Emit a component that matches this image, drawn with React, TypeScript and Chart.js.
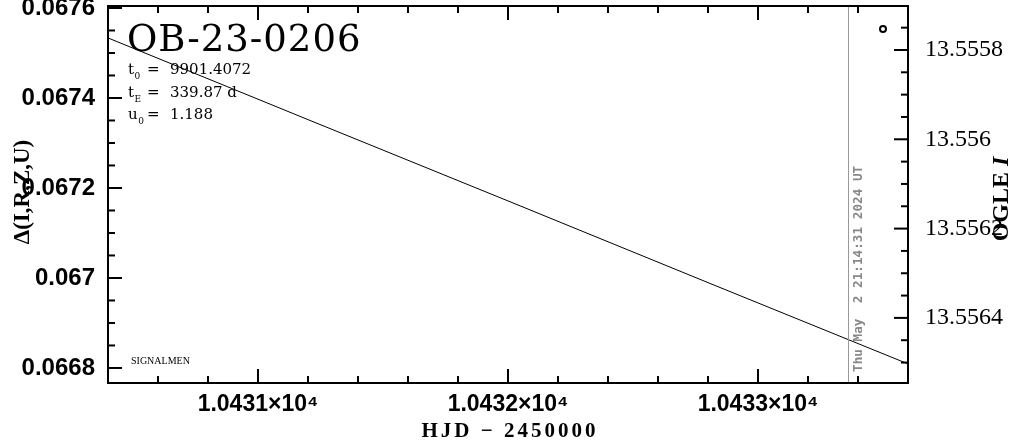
import { useEffect, useRef } from "react";
import { Chart, registerables } from "chart.js";

Chart.register(...registerables);

// ---- data ----
const eventName = "OB-23-0206";
const paramSymbols = ["t", "t", "u"];
const paramSubscripts = ["0", "E", "0"];
const paramValues = ["9901.4072", "339.87 d", "1.188"];
const footerNote = "SIGNALMEN";

const modelHjd = [10430.4, 10431.2, 10432.0, 10432.8, 10433.6];
const modelMag = [13.555773, 13.555956, 13.556138, 13.556321, 13.556503];

const obsHjd = [10433.5];
const obsMag = [13.555753];

const nowHjd = 10433.361;
const nowLabel = "Thu May  2 21:14:31 2024 UT";

const xTicks = [10431, 10432, 10433];
const xTickLabels = ["1.0431×10⁴", "1.0432×10⁴", "1.0433×10⁴"];
const deltaTicks = [0.0668, 0.067, 0.0672, 0.0674, 0.0676];
const deltaTickLabels = ["0.0668", "0.067", "0.0672", "0.0674", "0.0676"];
const magTicks = [13.5558, 13.556, 13.5562, 13.5564];
const magTickLabels = ["13.5558", "13.556", "13.5562", "13.5564"];

const xRange = [10430.4, 10433.6];
const deltaRange = [0.0667666, 0.0676044];
const magRange = [13.5557015, 13.5565458];
const xMinorStep = 0.2;
const yMinorStep = 0.00005;

const xTitle = "HJD \u2212 2450000";
const leftTitle = "\u0394(I,R,Z,U)";
const rightTitleMain = "OGLE ";
const rightTitleItalic = "I";

function drawSideTicks(
  ctx: CanvasRenderingContext2D,
  scale: any,
  side: string,
  area: any,
  majors: number[],
  step: number
) {
  const lo = Math.min(scale.min, scale.max);
  const hi = Math.max(scale.min, scale.max);
  const start = Math.ceil(lo / step - 1e-6);
  for (let k = start; k * step <= hi + step * 1e-6; k++) {
    const v = k * step;
    const isMajor = majors.some((m) => Math.abs(m - v) < step * 0.01);
    const len = isMajor ? 14 : 7;
    const p = scale.getPixelForValue(v);
    ctx.beginPath();
    if (side === "left") {
      ctx.moveTo(area.left, p);
      ctx.lineTo(area.left + len, p);
    } else if (side === "right") {
      ctx.moveTo(area.right, p);
      ctx.lineTo(area.right - len, p);
    } else if (side === "bottom") {
      ctx.moveTo(p, area.bottom);
      ctx.lineTo(p, area.bottom - len);
    } else {
      ctx.moveTo(p, area.top);
      ctx.lineTo(p, area.top + len);
    }
    ctx.stroke();
  }
}

const decorPlugin = {
  id: "decor",
  afterDraw(chart: any) {
    const ctx: CanvasRenderingContext2D = chart.ctx;
    const area = chart.chartArea;
    const xs = chart.scales.x;
    const yl = chart.scales.y;
    const yr = chart.scales.y1;
    ctx.save();

    // time marker
    const nx = Math.round(xs.getPixelForValue(nowHjd)) + 0.5;
    ctx.strokeStyle = "#999999";
    ctx.lineWidth = 1;
    ctx.beginPath();
    ctx.moveTo(nx, area.top);
    ctx.lineTo(nx, area.bottom);
    ctx.stroke();
    ctx.save();
    ctx.translate(nx + 13.5, area.bottom - 11);
    ctx.rotate(-Math.PI / 2);
    ctx.fillStyle = "#888888";
    ctx.font = 'bold 12.7px "DejaVu Sans Mono"';
    ctx.textAlign = "left";
    ctx.textBaseline = "alphabetic";
    ctx.fillText(nowLabel, 0, 0);
    ctx.restore();

    // frame
    ctx.strokeStyle = "#000";
    ctx.lineWidth = 2;
    ctx.strokeRect(area.left, area.top, area.right - area.left, area.bottom - area.top);

    // inner ticks
    drawSideTicks(ctx, xs, "bottom", area, xTicks, xMinorStep);
    drawSideTicks(ctx, xs, "top", area, xTicks, xMinorStep);
    drawSideTicks(ctx, yl, "left", area, deltaTicks, yMinorStep);
    drawSideTicks(ctx, yr, "right", area, magTicks, yMinorStep);

    ctx.fillStyle = "#000";
    ctx.textBaseline = "alphabetic";
    ctx.textAlign = "left";

    // event name
    ctx.save();
    ctx.font = '37px "DejaVu Serif"';
    (ctx as any).letterSpacing = "1px";
    ctx.fillText(eventName, 127, 51);
    ctx.restore();

    // parameters
    const baselines = [74, 97, 119];
    for (let i = 0; i < paramSymbols.length; i++) {
      const b = baselines[i];
      ctx.font = '15px "DejaVu Serif"';
      ctx.fillText(paramSymbols[i], 128, b);
      const w = ctx.measureText(paramSymbols[i]).width;
      ctx.font = '9px "DejaVu Serif"';
      ctx.fillText(paramSubscripts[i], 128 + w + 0.5, b + 5);
      ctx.font = '15px "DejaVu Serif"';
      ctx.fillText("=", 147, b);
      ctx.fillText(paramValues[i], 170, b);
    }

    // footer note
    ctx.font = '10px "Liberation Serif"';
    ctx.fillText(footerNote, 131, 364);

    // x title
    ctx.save();
    ctx.font = 'bold 21px "Liberation Serif"';
    (ctx as any).letterSpacing = "3px";
    ctx.textAlign = "center";
    ctx.fillText(xTitle, 510, 437);
    ctx.restore();

    // left title
    ctx.save();
    ctx.translate(29, 192);
    ctx.rotate(-Math.PI / 2);
    ctx.font = 'bold 23px "Liberation Serif"';
    ctx.textAlign = "center";
    ctx.fillText(leftTitle, 0, 0);
    ctx.restore();

    // right title
    ctx.save();
    ctx.translate(1008, 199);
    ctx.rotate(-Math.PI / 2);
    ctx.font = 'bold 24px "Liberation Serif"';
    const w1 = ctx.measureText(rightTitleMain).width;
    ctx.font = 'italic bold 24px "Liberation Serif"';
    const w2 = ctx.measureText(rightTitleItalic).width;
    const s = -(w1 + w2) / 2;
    ctx.textAlign = "left";
    ctx.font = 'bold 24px "Liberation Serif"';
    ctx.fillText(rightTitleMain, s, 0);
    ctx.font = 'italic bold 24px "Liberation Serif"';
    ctx.fillText(rightTitleItalic, s + w1, 0);
    ctx.restore();

    ctx.restore();
  },
};

export default function App() {
  const ref = useRef<HTMLCanvasElement>(null);
  useEffect(() => {
    const canvas = ref.current;
    if (!canvas) return;
    const chart = new Chart(canvas, {
      type: "line",
      data: {
        datasets: [
          {
            type: "line",
            label: "model",
            data: modelHjd.map((x, i) => ({ x, y: modelMag[i] })),
            borderColor: "#000",
            borderWidth: 1,
            pointRadius: 0,
            tension: 0,
            xAxisID: "x",
            yAxisID: "y1",
          },
          {
            type: "scatter",
            label: "OGLE",
            data: obsHjd.map((x, i) => ({ x, y: obsMag[i] })),
            borderColor: "#000",
            backgroundColor: "rgba(0,0,0,0)",
            pointRadius: 3,
            pointBorderWidth: 2,
            showLine: false,
            xAxisID: "x",
            yAxisID: "y1",
          },
        ],
      } as any,
      options: {
        responsive: false,
        animation: false,
        devicePixelRatio: 1,
        layout: { padding: { top: 6, left: 0, right: 0, bottom: 0 } },
        plugins: { legend: { display: false }, tooltip: { enabled: false } },
        scales: {
          x: {
            type: "linear",
            position: "bottom",
            min: xRange[0],
            max: xRange[1],
            grid: { display: false, drawTicks: false },
            border: { display: false },
            afterBuildTicks: (s: any) => {
              s.ticks = xTicks.map((v) => ({ value: v }));
            },
            afterFit: (s: any) => {
              s.height = 57;
              s.paddingLeft = 0;
              s.paddingRight = 0;
            },
            ticks: {
              color: "#000",
              font: { family: "Liberation Sans", weight: "bold", size: 23 },
              padding: 8,
              maxRotation: 0,
              minRotation: 0,
              autoSkip: false,
              callback: (_v: any, i: number) => xTickLabels[i],
            },
          },
          y: {
            type: "linear",
            position: "left",
            min: deltaRange[0],
            max: deltaRange[1],
            grid: { display: false, drawTicks: false },
            border: { display: false },
            afterBuildTicks: (s: any) => {
              s.ticks = deltaTicks.map((v) => ({ value: v }));
            },
            afterFit: (s: any) => {
              s.width = 108;
              s.paddingTop = 0;
              s.paddingBottom = 0;
            },
            ticks: {
              color: "#000",
              font: { family: "Liberation Sans", weight: "bold", size: 24 },
              padding: 13,
              autoSkip: false,
              callback: (_v: any, i: number) => deltaTickLabels[i],
            },
          },
          y1: {
            type: "linear",
            position: "right",
            reverse: true,
            min: magRange[0],
            max: magRange[1],
            grid: { display: false, drawTicks: false },
            border: { display: false },
            afterBuildTicks: (s: any) => {
              s.ticks = magTicks.map((v) => ({ value: v }));
            },
            afterFit: (s: any) => {
              s.width = 103;
              s.paddingTop = 0;
              s.paddingBottom = 0;
            },
            ticks: {
              color: "#000",
              font: { family: "Liberation Serif", size: 24 },
              padding: 17,
              autoSkip: false,
              callback: (_v: any, i: number) => magTickLabels[i],
            },
          },
        },
      } as any,
      plugins: [decorPlugin],
    });
    return () => chart.destroy();
  }, []);
  return (
    <div style={{ position: "absolute", left: 0, top: 0, width: 1011, height: 440, background: "#fff" }}>
      <canvas ref={ref} width={1011} height={440} style={{ display: "block", width: 1011, height: 440 }} />
    </div>
  );
}
